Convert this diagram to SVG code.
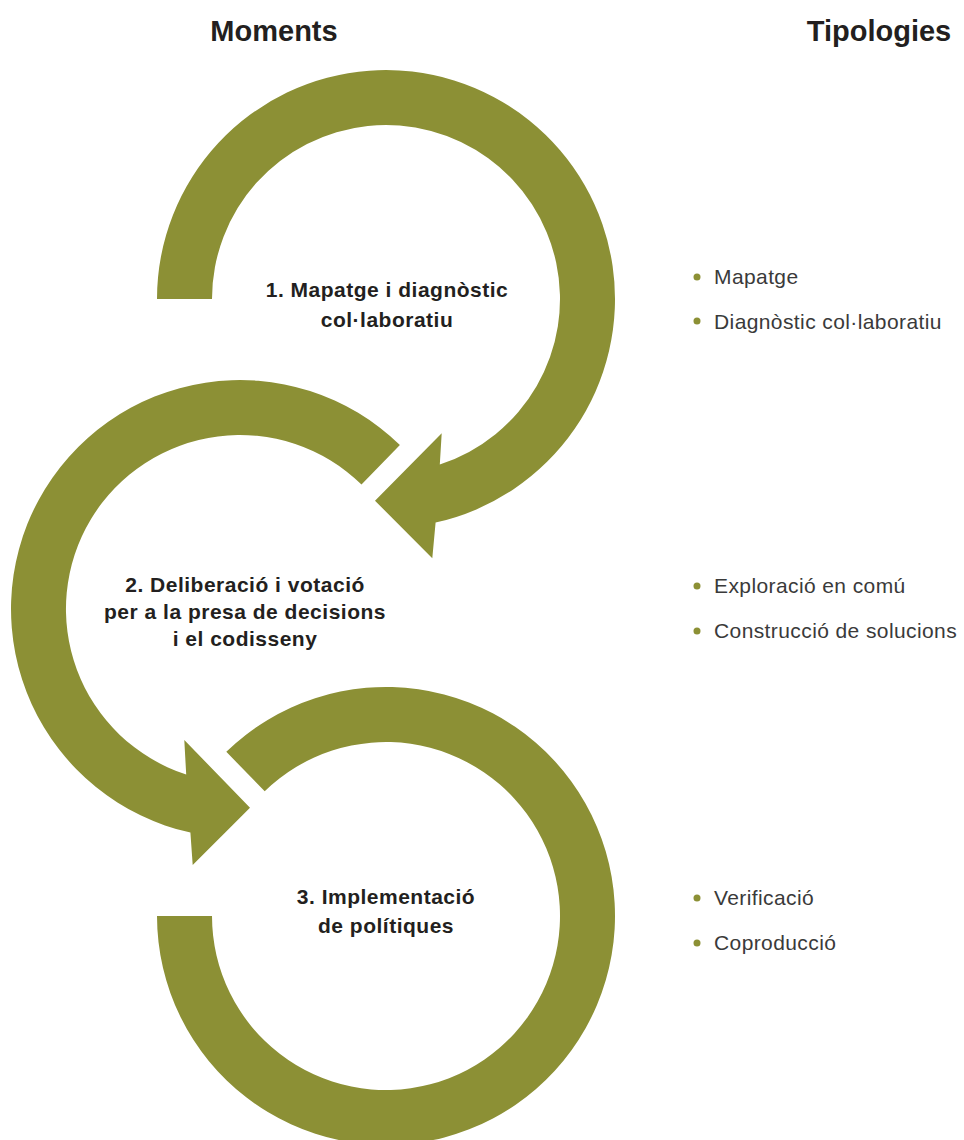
<svg xmlns="http://www.w3.org/2000/svg" width="964" height="1140" viewBox="0 0 964 1140">
<style>
.arc{fill:#8c9035;stroke:none}
.hdr{font-family:"Liberation Sans",Arial,sans-serif;font-weight:bold;font-size:29px;fill:#231f20;text-anchor:middle}
.lbl{font-family:"Liberation Sans",Arial,sans-serif;font-weight:bold;font-size:21px;letter-spacing:0.5px;fill:#231f20;text-anchor:middle}
.item{font-family:"Liberation Sans",Arial,sans-serif;font-size:21px;letter-spacing:0.4px;fill:#3a3a3a}
.dot{fill:#8c9035}
</style>
<rect width="964" height="1140" fill="#ffffff"/>
<g id="headers">
<text class="hdr" x="274" y="41">Moments</text>
<text class="hdr" x="879" y="41">Tipologies</text>
</g>
<g id="connectors">
<path id="arc1" class="arc" d="M 157 299 A 229 229 0 1 1 435.6 522.6 L 432.3 558.3 L 375 500.7 L 441.7 433.3 L 439.8 464.5 A 174 174 0 1 0 212 299 Z"/>
<path id="arc2" class="arc" d="M 399.9 445.1 A 229 229 0 1 0 190.4 832.6 L 192.7 865 L 250 807.7 L 184.3 740 L 186.2 774.5 A 174 174 0 1 1 361.5 484.5 Z"/>
<path id="arc3" class="arc" d="M 226.3 751.8 A 229 229 0 1 1 157 916 L 212 916 A 174 174 0 1 0 264.7 791.3 Z"/>
</g>
<g id="node1">
<text class="lbl" x="387" y="297">1. Mapatge i diagnòstic</text>
<text class="lbl" x="387" y="327">col·laboratiu</text>
</g>
<g id="node2">
<text class="lbl" x="245" y="592">2. Deliberació i votació</text>
<text class="lbl" x="245" y="619">per a la presa de decisions</text>
<text class="lbl" x="245" y="646">i el codisseny</text>
</g>
<g id="node3">
<text class="lbl" x="386" y="904">3. Implementació</text>
<text class="lbl" x="386" y="933">de polítiques</text>
</g>
<g id="types1">
<circle class="dot" cx="697" cy="277" r="3.5"/>
<text class="item" x="714" y="284">Mapatge</text>
<circle class="dot" cx="697" cy="321" r="3.5"/>
<text class="item" x="714" y="328.5">Diagnòstic col·laboratiu</text>
</g>
<g id="types2">
<circle class="dot" cx="697" cy="586" r="3.5"/>
<text class="item" x="714" y="593">Exploració en comú</text>
<circle class="dot" cx="697" cy="631" r="3.5"/>
<text class="item" x="714" y="638">Construcció de solucions</text>
</g>
<g id="types3">
<circle class="dot" cx="697" cy="898" r="3.5"/>
<text class="item" x="714" y="905">Verificació</text>
<circle class="dot" cx="697" cy="943" r="3.5"/>
<text class="item" x="714" y="950">Coproducció</text>
</g>
</svg>
